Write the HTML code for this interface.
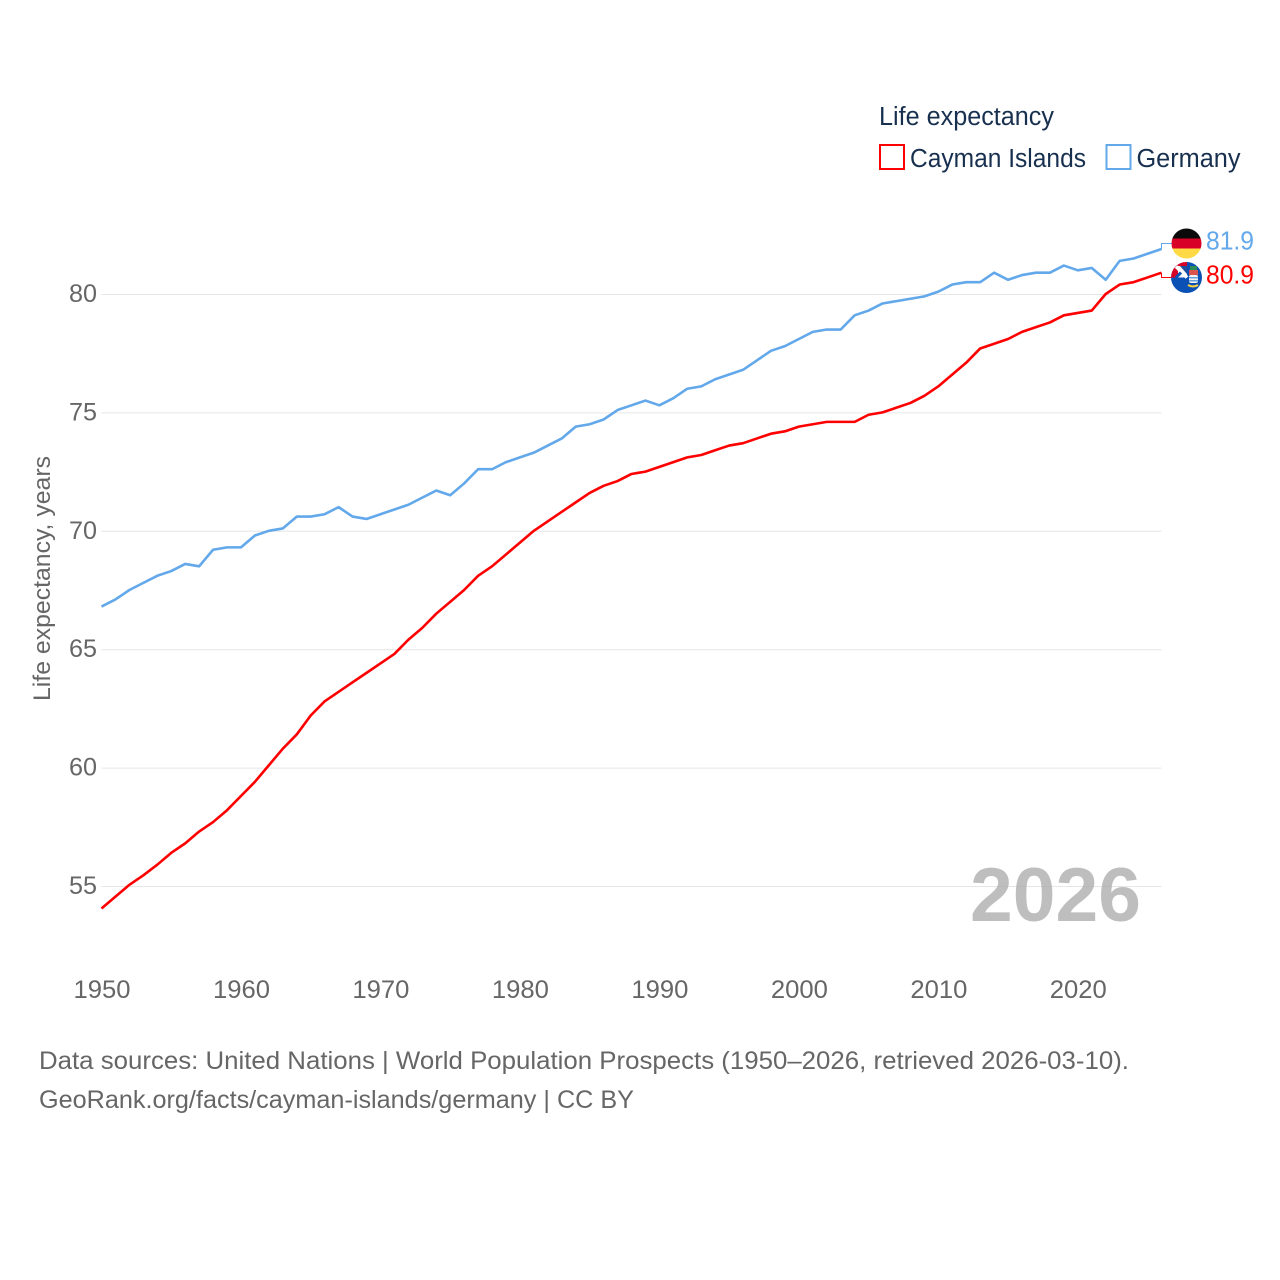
<!DOCTYPE html>
<html lang="en">
<head>
<meta charset="utf-8">
<title>Life expectancy: Cayman Islands and Germany</title>
<style>
html,body{margin:0;padding:0;background:#fff;}
svg{display:block;}
text{font-family:"Liberation Sans",sans-serif;}
</style>
</head>
<body>
<svg id="chart" xmlns="http://www.w3.org/2000/svg" width="1280" height="1280" viewBox="0 0 1280 1280">
  <rect x="0" y="0" width="1280" height="1280" fill="#fff"/>
  <g id="grid"></g>
  <g id="yticks"></g>
  <g id="xticks"></g>
  <text transform="translate(50,701) rotate(-90)" font-size="24.5" fill="#666" textLength="245" lengthAdjust="spacingAndGlyphs">Life expectancy, years</text>
  <text x="970" y="921" font-size="76" font-weight="700" fill="#a8a8a8" fill-opacity="0.75" textLength="171" lengthAdjust="spacingAndGlyphs">2026</text>
  <g id="series"></g>

  <g>
    <text x="879" y="125" font-size="25.5" fill="#18304f" textLength="175" lengthAdjust="spacingAndGlyphs">Life expectancy</text>
    <rect x="880" y="145" width="24" height="24" fill="none" stroke="#ff0000" stroke-width="2"/>
    <text x="910" y="167" font-size="25.5" fill="#18304f" textLength="176" lengthAdjust="spacingAndGlyphs">Cayman Islands</text>
    <rect x="1106.5" y="145" width="24" height="24" fill="none" stroke="#62a8ea" stroke-width="2"/>
    <text x="1136.5" y="167" font-size="25.5" fill="#18304f" textLength="104" lengthAdjust="spacingAndGlyphs">Germany</text>
  </g>

  <defs>
    <clipPath id="clip-de"><circle cx="1186.5" cy="243.5" r="15"/></clipPath>
    <clipPath id="clip-ky"><circle cx="1186.5" cy="277.5" r="15.5"/></clipPath>
  </defs>

  <g clip-path="url(#clip-ky)">
    <rect x="1171" y="262" width="32" height="32" fill="#0b50b4"/>
    <rect x="1171" y="262" width="16" height="15.5" fill="#f4f4f4"/>
    <rect x="1171" y="262" width="16" height="4" fill="#d80027"/>
    <rect x="1171" y="262" width="7" height="15.5" fill="#d80027"/>
    <path d="M1176 266.5L1187 277.5" stroke="#fff" stroke-width="3.5"/>
    <path d="M1180 266H1187V274Z" fill="#1f4f9c"/>
    <path d="M1176 277.5L1181 272.5" stroke="#0b50b4" stroke-width="3"/>
    <rect x="1190" y="266" width="7" height="4" fill="#2e8b57"/>
    <rect x="1189" y="270" width="9" height="5" fill="#d9534f"/>
    <rect x="1189" y="275" width="9" height="8" rx="2" fill="#f3f3f3"/>
    <rect x="1189" y="277" width="9" height="1.5" fill="#6aa3dc"/>
    <rect x="1189" y="280" width="9" height="1.5" fill="#6aa3dc"/>
    <path d="M1188 285Q1193 288 1198 285" stroke="#ffd23f" stroke-width="2" fill="none"/>
  </g>
  <g clip-path="url(#clip-de)">
    <rect x="1171" y="228" width="31" height="10.5" fill="#0a0a0a"/>
    <rect x="1171" y="238.5" width="31" height="10" fill="#d80027"/>
    <rect x="1171" y="248.5" width="31" height="11" fill="#ffda44"/>
  </g>

  <text x="1206" y="249.5" font-size="25.5" fill="#62a8ea" textLength="48" lengthAdjust="spacingAndGlyphs">81.9</text>
  <text x="1206" y="283.5" font-size="25.5" fill="#ff0000" textLength="48" lengthAdjust="spacingAndGlyphs">80.9</text>

  <text x="39" y="1069" font-size="25" fill="#666" textLength="1090" lengthAdjust="spacingAndGlyphs">Data sources: United Nations | World Population Prospects (1950–2026, retrieved 2026-03-10).</text>
  <text x="39" y="1108" font-size="25" fill="#666" textLength="595" lengthAdjust="spacingAndGlyphs">GeoRank.org/facts/cayman-islands/germany | CC BY</text>
</svg>
<script>
const startYear = 1950;
const yTickValues = [55, 60, 65, 70, 75, 80];
const xTickValues = [1950, 1960, 1970, 1980, 1990, 2000, 2010, 2020];
const caymanValues = [54.05,54.55,55.05,55.45,55.9,56.4,56.8,57.3,57.7,58.2,58.8,59.4,60.1,60.8,61.4,62.2,62.8,63.2,63.6,64.0,64.4,64.8,65.4,65.9,66.5,67.0,67.5,68.1,68.5,69.0,69.5,70.0,70.4,70.8,71.2,71.6,71.9,72.1,72.4,72.5,72.7,72.9,73.1,73.2,73.4,73.6,73.7,73.9,74.1,74.2,74.4,74.5,74.6,74.6,74.6,74.9,75.0,75.2,75.4,75.7,76.1,76.6,77.1,77.7,77.9,78.1,78.4,78.6,78.8,79.1,79.2,79.3,80.0,80.4,80.5,80.7,80.9];
const germanyValues = [66.8,67.1,67.5,67.8,68.1,68.3,68.6,68.5,69.2,69.3,69.3,69.8,70.0,70.1,70.6,70.6,70.7,71.0,70.6,70.5,70.7,70.9,71.1,71.4,71.7,71.5,72.0,72.6,72.6,72.9,73.1,73.3,73.6,73.9,74.4,74.5,74.7,75.1,75.3,75.5,75.3,75.6,76.0,76.1,76.4,76.6,76.8,77.2,77.6,77.8,78.1,78.4,78.5,78.5,79.1,79.3,79.6,79.7,79.8,79.9,80.1,80.4,80.5,80.5,80.9,80.6,80.8,80.9,80.9,81.2,81.0,81.1,80.6,81.4,81.5,81.7,81.9];

const NS = 'http://www.w3.org/2000/svg';
function xScale(year) { return 101.5 + (year - 1950) * (1161.5 - 101.5) / 76; }
function yScale(v) { return 294 + (80 - v) * (886 - 294) / 25; }

const gridGroup = document.getElementById('grid');
const yGroup = document.getElementById('yticks');
const xGroup = document.getElementById('xticks');
const seriesGroup = document.getElementById('series');

yTickValues.forEach(function (v) {
  const line = document.createElementNS(NS, 'line');
  
  
  line.setAttribute('x1', xScale(1950));
  line.setAttribute('x2', xScale(2026));
  line.setAttribute('y1', yScale(v) + 0.5);
  line.setAttribute('y2', yScale(v) + 0.5);
  line.setAttribute('stroke', '#e6e6e6');
  line.setAttribute('stroke-width', '1');
  gridGroup.appendChild(line);

  const label = document.createElementNS(NS, 'text');
  
  
  label.setAttribute('x', 69);
  label.setAttribute('y', yScale(v) + 8);
  label.setAttribute('font-size', '25');
  label.setAttribute('fill', '#666');
  label.setAttribute('textLength', '28');
  label.setAttribute('lengthAdjust', 'spacingAndGlyphs');
  label.textContent = String(v);
  yGroup.appendChild(label);
});

xTickValues.forEach(function (year) {
  const label = document.createElementNS(NS, 'text');
  
  
  label.setAttribute('x', xScale(year) - 28);
  label.setAttribute('y', 998);
  label.setAttribute('font-size', '25');
  label.setAttribute('fill', '#666');
  label.setAttribute('textLength', '57');
  label.setAttribute('lengthAdjust', 'spacingAndGlyphs');
  label.textContent = String(year);
  xGroup.appendChild(label);
});

function drawSeries(values, color, connectorOffset) {
  const points = values.map(function (v, i) {
    return xScale(startYear + i).toFixed(2) + ',' + yScale(v).toFixed(2);
  }).join(' ');
  const line = document.createElementNS(NS, 'polyline');
  
  
  line.setAttribute('points', points);
  line.setAttribute('fill', 'none');
  line.setAttribute('stroke', color);
  line.setAttribute('stroke-width', '2.6');
  line.setAttribute('stroke-linejoin', 'round');
  seriesGroup.appendChild(line);

  const endX = xScale(startYear + values.length - 1);
  const endY = yScale(values[values.length - 1]);
  const connector = document.createElementNS(NS, 'path');
  
  
  connector.setAttribute('d', 'M' + endX + ' ' + endY + 'V' + (endY + connectorOffset) + 'H1172');
  connector.setAttribute('fill', 'none');
  connector.setAttribute('stroke', color);
  connector.setAttribute('stroke-width', '1');
  seriesGroup.appendChild(connector);
}

drawSeries(caymanValues, '#ff0000', 4.8);
drawSeries(germanyValues, '#62a8ea', -5.5);
</script>
</body>
</html>
